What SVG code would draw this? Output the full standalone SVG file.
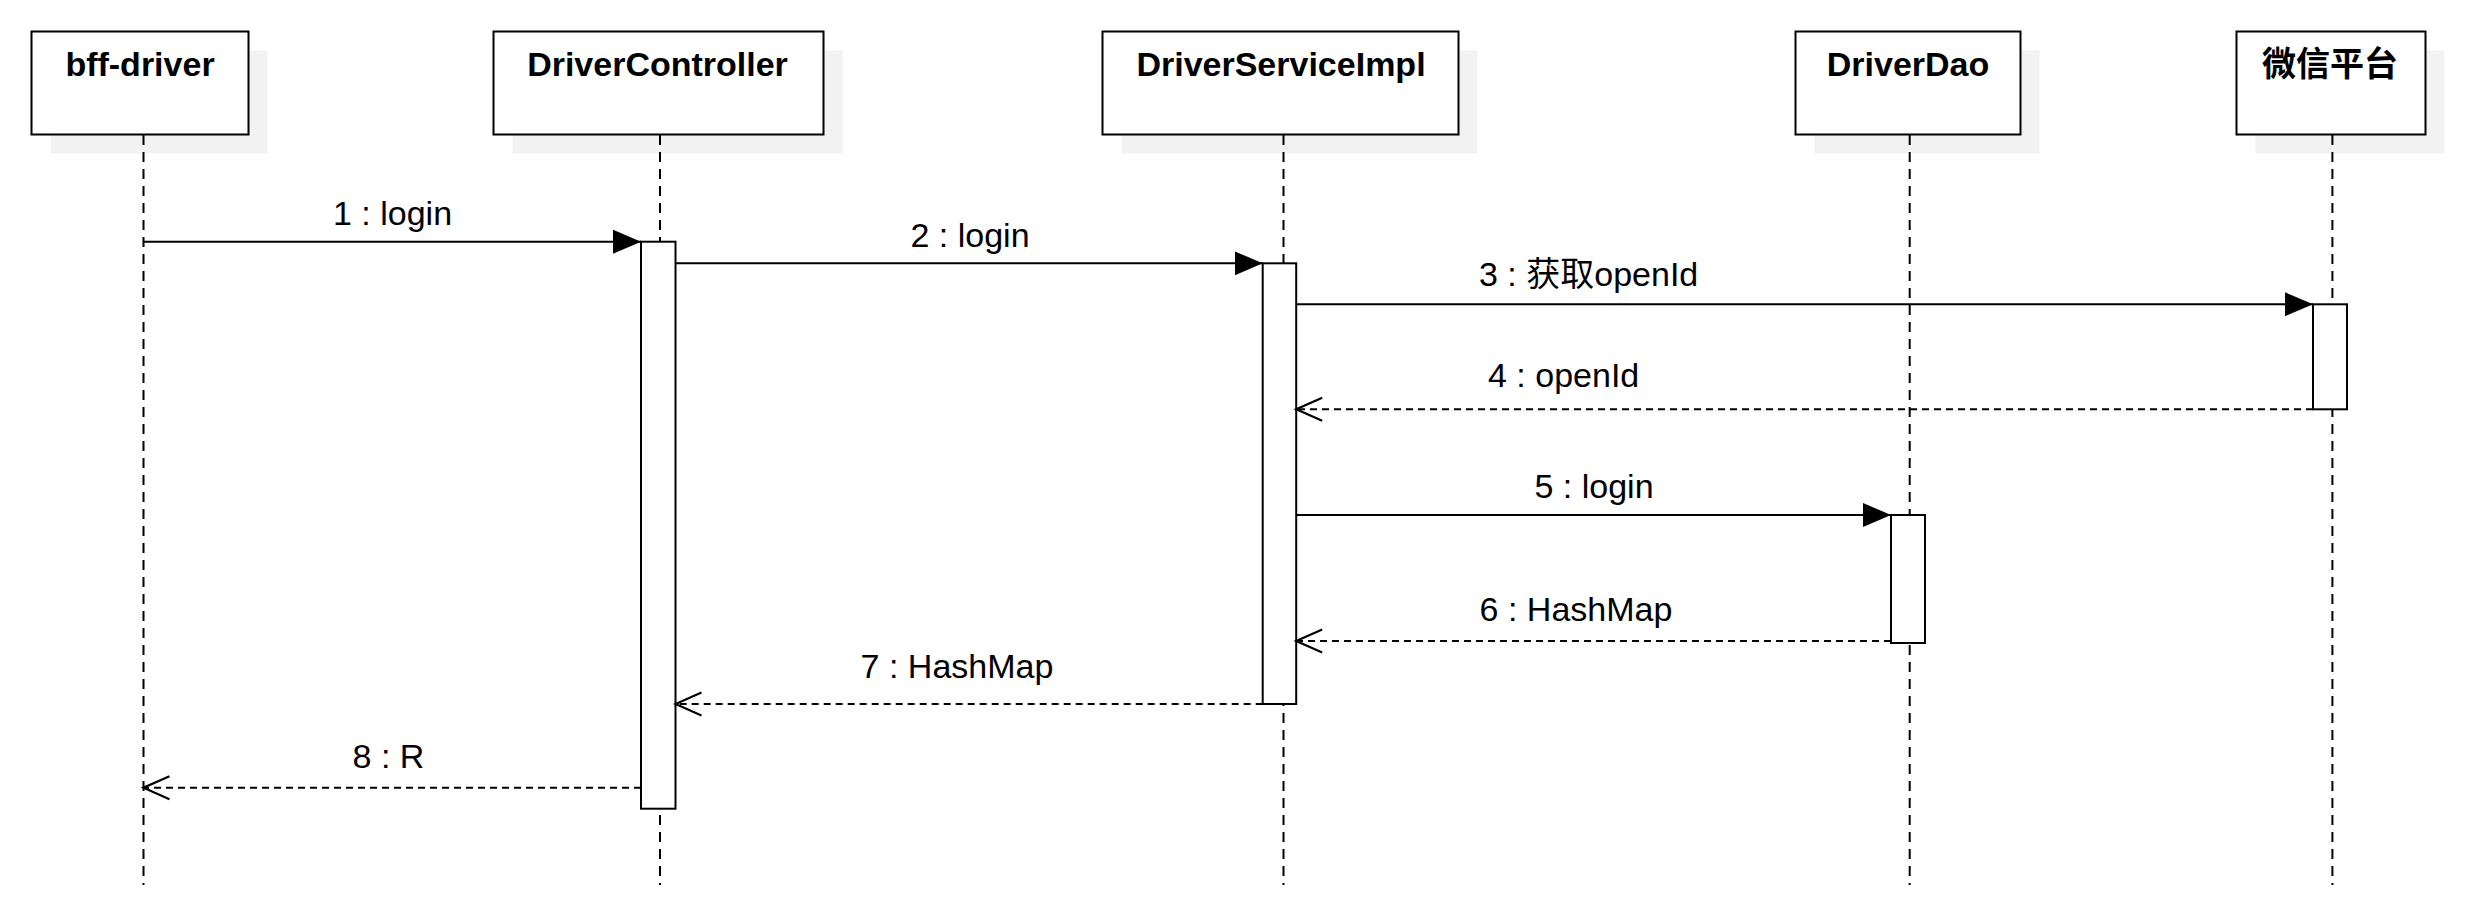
<svg xmlns="http://www.w3.org/2000/svg" width="2469" height="913" viewBox="0 0 2469 913">
<style>
.shadow{fill:#f2f2f2;stroke:none}
.box{fill:#fff;stroke:#000;stroke-width:2}
.title{font-family:"Liberation Sans",Arial,"Noto Sans CJK SC",sans-serif;font-size:34px;font-weight:bold;fill:#000;text-anchor:middle}
.life{stroke:#000;stroke-width:2;stroke-dasharray:10 7;fill:none}
.act{fill:#fff;stroke:#000;stroke-width:2}
.msg{stroke:#000;stroke-width:2;fill:none;marker-end:url(#filled)}
.ret{stroke:#000;stroke-width:2;fill:none;stroke-dasharray:7 5;marker-end:url(#open)}
.lbl{font-family:"Liberation Sans",Arial,"Noto Sans CJK SC",sans-serif;font-size:34px;fill:#000}
</style>
<defs>
<marker id="filled" markerUnits="userSpaceOnUse" markerWidth="30" markerHeight="26" refX="28" refY="12" orient="auto">
<path d="M0,0 L28,12 L0,24 Z" fill="#000" stroke="none"/>
</marker>
<marker id="open" markerUnits="userSpaceOnUse" markerWidth="30" markerHeight="28" refX="27" refY="13" orient="auto">
<path d="M1,1.5 L27,13 L1,24.5" fill="none" stroke="#000" stroke-width="2.2"/>
</marker>
</defs>
<rect width="2469" height="913" fill="#fff"/>

<g id="bff-driver">
<rect class="shadow" x="50.5" y="50.5" width="217" height="103"/>
<line class="life" x1="143.5" y1="135" x2="143.5" y2="885"/>
<rect class="box" x="31.5" y="31.5" width="217" height="103"/>
<text class="title" x="140" y="75.5">bff-driver</text>
</g>

<g id="DriverController">
<rect class="shadow" x="512.5" y="50.5" width="330" height="103"/>
<line class="life" x1="660" y1="135" x2="660" y2="885"/>
<rect class="box" x="493.5" y="31.5" width="330" height="103"/>
<text class="title" x="657.5" y="75.5">DriverController</text>
<rect class="act" x="641" y="241.7" width="34.5" height="567"/>
</g>

<g id="DriverServiceImpl">
<rect class="shadow" x="1121.5" y="50.5" width="356" height="103"/>
<line class="life" x1="1283.5" y1="135" x2="1283.5" y2="885"/>
<rect class="box" x="1102.5" y="31.5" width="356" height="103"/>
<text class="title" x="1281" y="75.5">DriverServiceImpl</text>
<rect class="act" x="1262.7" y="263.3" width="33.5" height="440.7"/>
</g>

<g id="DriverDao">
<rect class="shadow" x="1814.5" y="50.5" width="225" height="103"/>
<line class="life" x1="1909.7" y1="135" x2="1909.7" y2="885"/>
<rect class="box" x="1795.5" y="31.5" width="225" height="103"/>
<text class="title" x="1908" y="75.5">DriverDao</text>
<rect class="act" x="1891" y="515" width="34" height="128"/>
</g>

<g id="wechat">
<rect class="shadow" x="2255.5" y="50.5" width="189" height="103"/>
<line class="life" x1="2332.4" y1="135" x2="2332.4" y2="885"/>
<rect class="box" x="2236.5" y="31.5" width="189" height="103"/>
<text class="title" x="2330" y="75.5">微信平台</text>
<rect class="act" x="2313" y="304.3" width="34" height="105"/>
</g>

<g id="connectors">
<line class="msg" x1="143.5" y1="241.7" x2="641" y2="241.7"/>
<text class="lbl" x="392.5" y="225" text-anchor="middle">1 : login</text>
<line class="msg" x1="675.5" y1="263.3" x2="1262.7" y2="263.3"/>
<text class="lbl" x="970" y="247" text-anchor="middle">2 : login</text>
<line class="msg" x1="1296.2" y1="304.3" x2="2313" y2="304.3"/>
<text class="lbl" x="1479" y="285.7">3 : 获取openId</text>
<line class="ret" x1="2313" y1="409.3" x2="1296.2" y2="409.3"/>
<text class="lbl" x="1488" y="386.7">4 : openId</text>
<line class="msg" x1="1296.2" y1="515" x2="1891" y2="515"/>
<text class="lbl" x="1594" y="497.7" text-anchor="middle">5 : login</text>
<line class="ret" x1="1891" y1="641" x2="1296.2" y2="641"/>
<text class="lbl" x="1576" y="621.3" text-anchor="middle">6 : HashMap</text>
<line class="ret" x1="1262.7" y1="704" x2="675.5" y2="704"/>
<text class="lbl" x="957" y="678" text-anchor="middle">7 : HashMap</text>
<line class="ret" x1="641" y1="787.7" x2="143.5" y2="787.7"/>
<text class="lbl" x="388.5" y="768.3" text-anchor="middle">8 : R</text>
</g>
</svg>
